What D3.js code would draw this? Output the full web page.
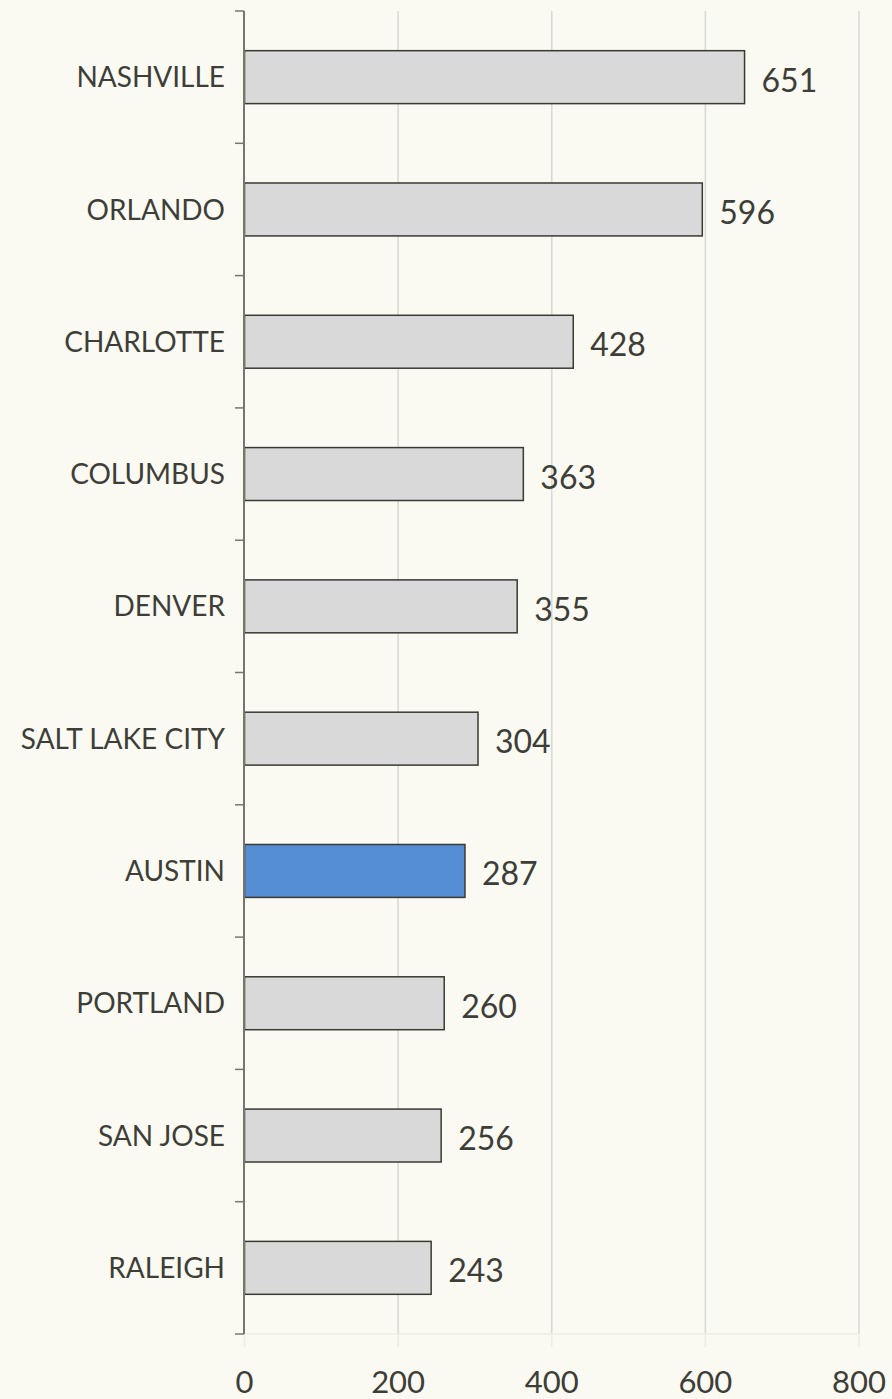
<!DOCTYPE html>
<html><head><meta charset="utf-8">
<script src="https://cdn.jsdelivr.net/npm/d3@7"></script>
<style>html,body{margin:0;padding:0;background:#FAFAF3;}svg{display:block;}</style>
</head><body>
<script>
const categories = ["NASHVILLE","ORLANDO","CHARLOTTE","COLUMBUS","DENVER","SALT LAKE CITY","AUSTIN","PORTLAND","SAN JOSE","RALEIGH"];
const values = [651,596,428,363,355,304,287,260,256,243];
const highlight = ["AUSTIN"];
const xTicks = [0,200,400,600,800];

const W = 892, H = 1399;
const svg = d3.select("body").append("svg").attr("width",W).attr("height",H);
svg.append("rect").attr("width",W).attr("height",H).attr("fill","#FAFAF3");

const x = d3.scaleLinear().domain([0,800]).range([244.5,859]);
const y = d3.scaleBand().domain(categories).range([11,1334]).paddingInner(0.6).paddingOuter(0.3);

const textCol = "#3E3E38";
// gridlines
svg.append("g").selectAll("line").data(xTicks.slice(1)).join("line")
  .attr("x1",d=>x(d)).attr("x2",d=>x(d)).attr("y1",11).attr("y2",1334)
  .attr("stroke","#D9D9D6").attr("stroke-width",1.6);
svg.append("g").selectAll("line").data(xTicks).join("line")
  .attr("x1",d=>x(d)).attr("x2",d=>x(d)).attr("y1",1334).attr("y2",1347)
  .attr("stroke","#EDEDE6").attr("stroke-width",1.6);
svg.append("line").attr("x1",x(0)).attr("x2",x(800)).attr("y1",1334).attr("y2",1334)
  .attr("stroke","#EEEEE8").attr("stroke-width",1.5);

// bars
const data = categories.map((c,i)=>({c, v: values[i]}));
svg.append("g").selectAll("rect").data(data).join("rect")
  .attr("x",x(0)).attr("y",d=>y(d.c)).attr("width",d=>x(d.v)-x(0)).attr("height",y.bandwidth())
  .attr("fill",d=>highlight.includes(d.c)?"#558ED5":"#D9D9D9")
  .attr("stroke","#3A3A33").attr("stroke-width",1.5);

// y axis
const yAxis = g => {
  g.append("line").attr("x1",244).attr("x2",244).attr("y1",11).attr("y2",1334)
    .attr("stroke","#76766A").attr("stroke-width",2);
  const bounds = d3.range(categories.length+1).map(i=>11+i*(1323/categories.length));
  g.selectAll("line.t").data(bounds).join("line").attr("class","t")
    .attr("x1",235).attr("x2",244).attr("y1",d=>d).attr("y2",d=>d)
    .attr("stroke","#76766A").attr("stroke-width",1.5);
};
svg.append("g").call(yAxis);

// category labels
svg.append("g").selectAll("text").data(data).join("text")
  .attr("x",225).attr("y",d=>y(d.c)+y.bandwidth()/2)
  .attr("dy","0.36em").attr("text-anchor","end")
  .attr("font-family","Lato, sans-serif").attr("font-size",28)
  .attr("fill",textCol).text(d=>d.c);

// value labels
svg.append("g").selectAll("text").data(data).join("text")
  .attr("x",d=>x(d.v)+17).attr("y",d=>y(d.c)+y.bandwidth()/2+3)
  .attr("dy","0.36em")
  .attr("font-family","Lato, sans-serif").attr("font-size",32)
  .attr("fill",textCol).text(d=>d.v);

// x tick labels
svg.append("g").selectAll("text").data(xTicks).join("text")
  .attr("x",d=>x(d)).attr("y",1393).attr("text-anchor","middle")
  .attr("font-family","Lato, sans-serif").attr("font-size",31)
  .attr("fill",textCol).text(d=>d);
</script>
</body></html>
